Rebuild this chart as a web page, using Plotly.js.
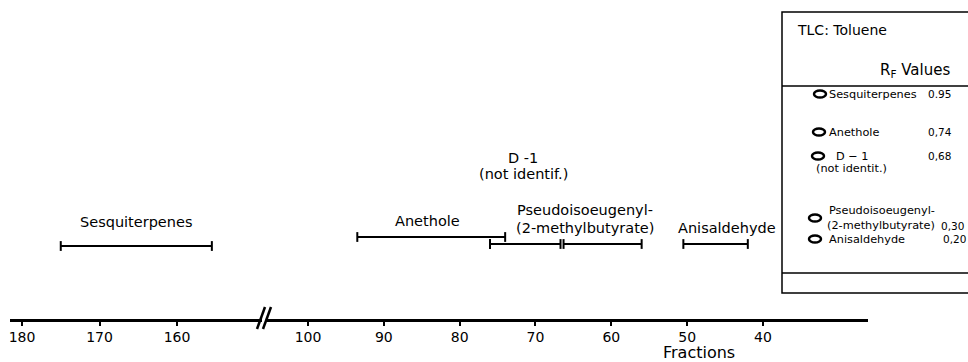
<!DOCTYPE html>
<html>
<head>
<meta charset="utf-8">
<script src="https://cdn.plot.ly/plotly-3.0.1.min.js"></script>
<style>html,body{margin:0;padding:0;background:#fff;}#chart{width:968px;height:362px;}</style>
</head>
<body>
<div id="chart"></div>
<script>
// ---- data ----
const intervalNames = ['Sesquiterpenes', 'Anethole', 'D-1', 'Pseudoisoeugenyl', 'Anisaldehyde'];
const intervalStart = [175, 93.5, 76, 66.3, 50.5];
const intervalEnd = [155.5, 74, 66.7, 56, 42];
const intervalAxis = ['x', 'x2', 'x2', 'x2', 'x2'];
const intervalRow = [73, 82, 75, 75, 75];

const labelLines = ['Sesquiterpenes', 'Anethole', 'D -1', '(not identif.)', 'Pseudoisoeugenyl-', '(2-methylbutyrate)', 'Anisaldehyde'];
const labelX = [165.3, 84.2, 71.6, 71.6, 63.5, 63.5, 44.7];
const labelY = [97, 98, 161, 145, 109, 91, 91];
const labelAxis = ['x', 'x2', 'x2', 'x2', 'x2', 'x2', 'x2'];

const leftTicks = [180, 170, 160];
const rightTicks = [100, 90, 80, 70, 60, 50, 40];

const tlcNames = ['Sesquiterpenes', 'Anethole', 'D \u2212 1', 'Pseudoisoeugenyl-', 'Anisaldehyde'];
const tlcSubNames = ['', '', '(not identit.)', '(2-methylbutyrate)', ''];
const tlcRfText = ['0.95', '0,74', '0,68', '0,30', '0,20'];

// ---- layout helpers ----
const W = 968, H = 362, B = 43, PH = H - B;
const px = v => v / W;
const py = v => (PH - v) / PH;
const FONT = 'DejaVu Sans, sans-serif';

const traces = intervalNames.map((n, i) => ({
  type: 'scatter', mode: 'lines+markers', name: n,
  x: [intervalStart[i], intervalEnd[i]], y: [intervalRow[i], intervalRow[i]],
  xaxis: intervalAxis[i], yaxis: 'y',
  line: {color: '#000', width: 2},
  marker: {symbol: 'line-ns', size: 7, line: {color: '#000', width: 2}},
  hoverinfo: 'skip', showlegend: false
}));

const annotations = labelLines.map((t, i) => ({
  text: t, x: labelX[i], y: labelY[i], xref: labelAxis[i], yref: 'y',
  showarrow: false, xanchor: 'center', yanchor: 'middle',
  font: {family: FONT, size: 14.5, color: '#000'}
}));

annotations.push({text: 'Fractions', x: px(699), y: py(352), xref: 'paper', yref: 'paper',
  showarrow: false, xanchor: 'center', yanchor: 'middle', borderpad: 0, font: {family: FONT, size: 16, color: '#000'}});
annotations.push({text: 'TLC: Toluene', x: px(795), y: py(30), xref: 'paper', yref: 'paper',
  showarrow: false, xanchor: 'left', yanchor: 'middle', font: {family: FONT, size: 14, color: '#000'}});
annotations.push({text: 'R<sub>F</sub> Values', x: px(878), y: py(70), xref: 'paper', yref: 'paper',
  showarrow: false, xanchor: 'left', yanchor: 'middle', font: {family: FONT, size: 15, color: '#000'}});

// TLC legend rows (pixel positions of rows inside the panel)
const rowY = [94, 132, 156, 218, 239];
const ovalX = [820, 819, 818, 815, 815];
const valX = [927, 927, 927, 940, 942];
const lf = {family: FONT, size: 11.3, color: '#000'};
const shapes = [];

tlcNames.forEach((n, i) => {
  shapes.push({type: 'circle', xref: 'paper', yref: 'paper', xsizemode: 'pixel', ysizemode: 'pixel',
    xanchor: px(ovalX[i]), yanchor: py(rowY[i]), x0: -6, x1: 6, y0: -3.5, y1: 3.5,
    line: {color: '#000', width: 2.5}});
  let nameY = rowY[i], nameXpx = 828, anchor = 'left';
  if (i === 2) { nameXpx = 852; anchor = 'center'; }
  if (i === 3) { nameY = 210; }
  annotations.push({text: n, x: px(nameXpx), y: py(nameY), xref: 'paper', yref: 'paper', showarrow: false,
    xanchor: anchor, yanchor: 'middle', borderpad: 0, font: lf});
  if (tlcSubNames[i]) {
    const subY = i === 2 ? 168 : 226;
    annotations.push({text: tlcSubNames[i], x: px(i === 2 ? 851 : 826), y: py(subY), xref: 'paper', yref: 'paper',
      showarrow: false, xanchor: i === 2 ? 'center' : 'left', yanchor: 'middle', borderpad: 0, font: lf});
  }
  const vy = i === 3 ? 226 : rowY[i];
  annotations.push({text: tlcRfText[i], x: px(valX[i]), y: py(vy), xref: 'paper', yref: 'paper', showarrow: false,
    xanchor: 'left', yanchor: 'middle', borderpad: 0, font: {family: FONT, size: 10.5, color: '#000'}});
});

shapes.push(
  // TLC panel box
  {type: 'rect', xref: 'paper', yref: 'paper', x0: px(782), x1: 1.05, y0: py(293), y1: py(12), line: {color: '#000', width: 1.5}},
  // solvent front and origin lines
  {type: 'line', xref: 'paper', yref: 'paper', x0: px(782), x1: 1.05, y0: py(86), y1: py(86), line: {color: '#000', width: 1.5}},
  {type: 'line', xref: 'paper', yref: 'paper', x0: px(782), x1: 1.05, y0: py(273), y1: py(273), line: {color: '#000', width: 1.5}},
  // axis break marks
  {type: 'line', xref: 'paper', yref: 'paper', x0: px(257), x1: px(265), y0: py(329), y1: py(307), line: {color: '#000', width: 2.5}},
  {type: 'line', xref: 'paper', yref: 'paper', x0: px(263), x1: px(271), y0: py(329), y1: py(307), line: {color: '#000', width: 2.5}}
);

const axisCommon = {
  showline: true, linecolor: '#000', linewidth: 2.5, showgrid: false, zeroline: false,
  ticks: 'outside', ticklen: 4, tickwidth: 2, tickcolor: '#000', tickmode: 'array',
  tickfont: {family: FONT, size: 14, color: '#000'}, anchor: 'y', fixedrange: true
};

const layout = {
  width: W, height: H, margin: {l: 0, r: 0, t: 0, b: B},
  paper_bgcolor: '#fff', plot_bgcolor: '#fff', showlegend: false,
  xaxis: Object.assign({}, axisCommon, {domain: [px(10), px(262)], range: [181.55, 149.03], tickvals: leftTicks}),
  xaxis2: Object.assign({}, axisCommon, {domain: [px(266), px(868)], range: [105.54, 26.15], tickvals: rightTicks}),
  yaxis: {domain: [0, 1], range: [0, PH], visible: false, fixedrange: true},
  annotations: annotations, shapes: shapes
};

Plotly.newPlot('chart', traces, layout, {displayModeBar: false, staticPlot: true});
</script>
</body>
</html>
